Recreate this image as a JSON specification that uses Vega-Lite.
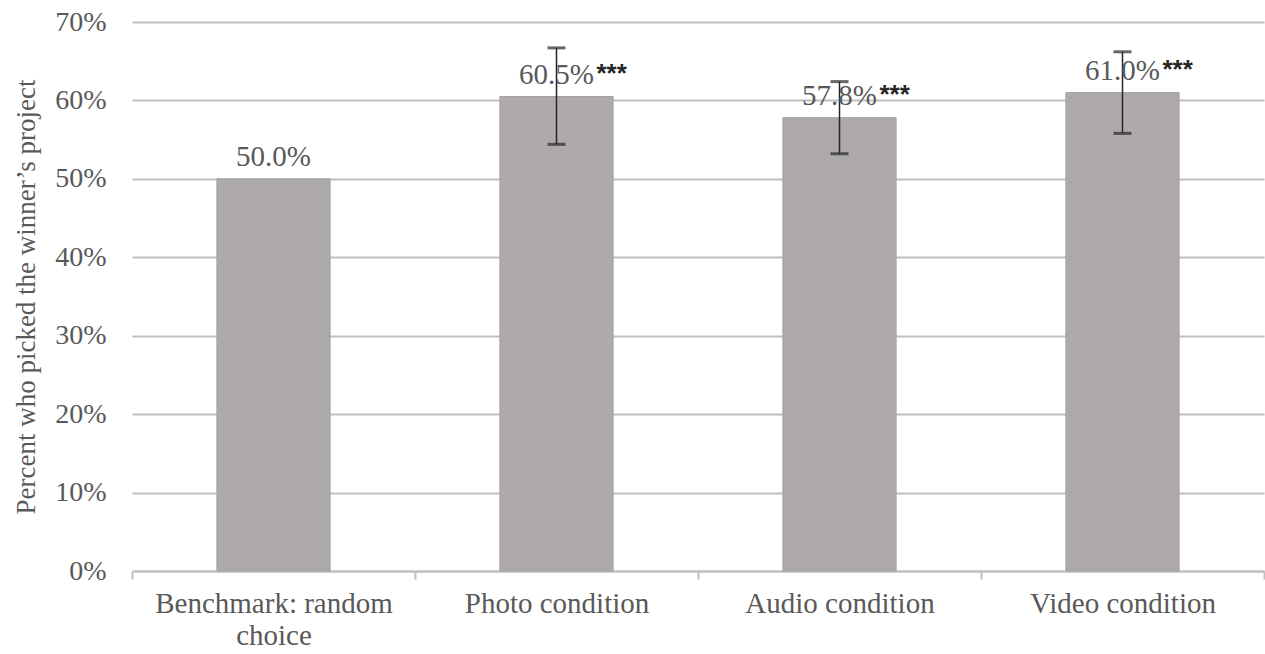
{
  "$schema": "https://vega.github.io/schema/vega-lite/v6.json",
  "width": 1265,
  "height": 654,
  "autosize": {"type": "fit", "contains": "padding"},
  "padding": {"left": 12, "right": 0, "top": 8, "bottom": 4},
  "config": {
    "font": "Liberation Serif",
    "view": {"stroke": null},
    "axis": {"labelFont": "Liberation Serif", "titleFont": "Liberation Serif", "labelColor": "#595959", "titleColor": "#595959"}
  },
  "data": {
    "values": [
      {"condition": "Benchmark: random choice", "value": 0.5, "lo": null, "hi": null, "label": "50.0%", "stars": ""},
      {"condition": "Photo condition", "value": 0.605, "lo": 0.544, "hi": 0.667, "label": "60.5%", "stars": "***"},
      {"condition": "Audio condition", "value": 0.578, "lo": 0.532, "hi": 0.624, "label": "57.8%", "stars": "***"},
      {"condition": "Video condition", "value": 0.61, "lo": 0.558, "hi": 0.662, "label": "61.0%", "stars": "***"}
    ]
  },
  "encoding": {
    "x": {
      "field": "condition", "type": "nominal", "sort": null,
      "scale": {"paddingInner": 0, "paddingOuter": 0},
      "axis": {
        "title": null, "labelAngle": 0, "labelFontSize": 29, "labelPadding": 10, "labelLimit": 0,
        "labelExpr": "datum.label == 'Benchmark: random choice' ? ['Benchmark: random', 'choice'] : datum.label",
        "labelLineHeight": 32,
        "domainColor": "#bfbfbf", "domainWidth": 2, "tickColor": "#bfbfbf", "tickWidth": 2, "tickSize": 8,
        "tickBand": "extent", "grid": false
      }
    }
  },
  "layer": [
    {
      "mark": {"type": "bar", "color": "#aeaaaa", "stroke": "#a3a0a0", "strokeWidth": 1, "width": {"band": 0.4}},
      "encoding": {
        "y": {
          "field": "value", "type": "quantitative",
          "scale": {"domain": [0, 0.7]},
          "axis": {
            "format": ".0%", "values": [0, 0.1, 0.2, 0.3, 0.4, 0.5, 0.6, 0.7],
            "title": "Percent who picked the winner\u2019s project", "titleFontSize": 27, "titleFontWeight": "normal", "titlePadding": 14,
            "labelFontSize": 28, "labelPadding": 26, "domain": false, "ticks": false,
            "gridColor": "#bfbfbf", "gridWidth": 2
          }
        }
      }
    },
    {
      "mark": {"type": "rule", "color": "#262626", "strokeWidth": 1.5},
      "encoding": {"y": {"field": "lo", "type": "quantitative"}, "y2": {"field": "hi"}}
    },
    {
      "mark": {"type": "tick", "color": "#262626", "thickness": 3, "size": 18, "orient": "horizontal"},
      "encoding": {"y": {"field": "lo", "type": "quantitative"}}
    },
    {
      "mark": {"type": "tick", "color": "#262626", "thickness": 3, "size": 18, "orient": "horizontal"},
      "encoding": {"y": {"field": "hi", "type": "quantitative"}}
    },
    {
      "mark": {"type": "text", "fontSize": 29, "color": "#595959", "baseline": "alphabetic", "dy": -13, "align": "center"},
      "encoding": {"y": {"field": "value", "type": "quantitative"}, "text": {"field": "label"}}
    },
    {
      "mark": {"type": "text", "fontSize": 26, "fontWeight": "bold", "color": "#262626", "baseline": "alphabetic", "dy": -15, "dx": 40, "align": "left", "font": "Liberation Sans"},
      "encoding": {"y": {"field": "value", "type": "quantitative"}, "text": {"field": "stars"}}
    }
  ]
}
